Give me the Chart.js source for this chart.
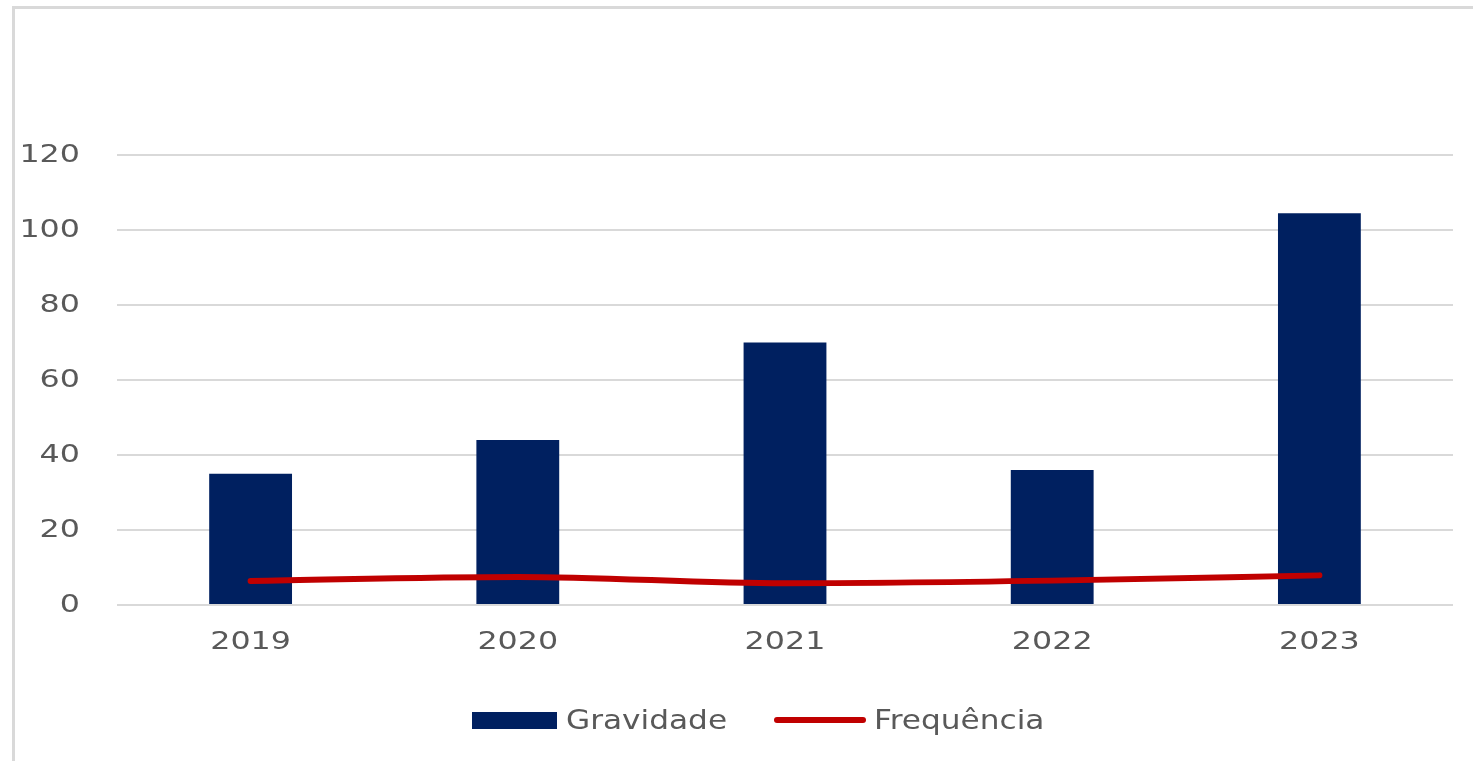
<!DOCTYPE html>
<html>
<head>
<meta charset="utf-8">
<script src="https://cdn.jsdelivr.net/npm/chart.js@4.4.1/dist/chart.umd.min.js"></script>
<style>
  html, body { margin: 0; padding: 0; background: #fff; }
  #wrap { position: relative; width: 1473px; height: 761px; overflow: hidden; }
  #frame {
    position: absolute; left: 12px; top: 6px; width: 1500px; height: 800px;
    border-left: 3px solid #d9d9d9; border-top: 3px solid #d9d9d9;
  }
  #chartBox { position: absolute; left: 0; top: 0; width: 1473px; height: 761px; }
  .swatch-bar { position: absolute; left: 472px; top: 712px; width: 85px; height: 17px; background: #002060; }
  .swatch-line { position: absolute; left: 774px; top: 717px; width: 92px; height: 6px; border-radius: 3px; background: #C00000; }
  .legend-text {
    position: absolute; top: 706px; white-space: nowrap;
    font-family: "DejaVu Sans", sans-serif; font-size: 27px; line-height: 1; color: #595959;
    transform: scaleX(1.155); transform-origin: left center;
  }
</style>
</head>
<body>
<div id="wrap">
  <div id="frame"></div>
  <div id="chartBox"><canvas id="mainChart"></canvas></div>
  <span class="swatch-bar"></span>
  <span class="legend-text" style="left:566px">Gravidade</span>
  <span class="swatch-line"></span>
  <span class="legend-text" style="left:874px">Frequência</span>
</div>
<script>
/* ---------- Data ---------- */
const years = ["2019", "2020", "2021", "2022", "2023"];
const gravidade = [35, 44, 70, 36, 104.5];
const frequencia = [6.4, 7.5, 5.8, 6.5, 7.9];
const yTicks = [0, 20, 40, 60, 80, 100, 120];

const textColor = "#595959";
const gridColor = "#d9d9d9";

// the original picture has horizontally stretched glyphs
const stretchPlugin = {
  id: "stretch",
  beforeDraw(chart) {
    const ctx = chart.ctx;
    if (ctx._stretched) return;
    const fill = ctx.fillText.bind(ctx);
    ctx.fillText = function (text, x, y) {
      ctx.save();
      ctx.translate(x, y);
      ctx.scale(1.27, 1);
      fill(text, 0, 0);
      ctx.restore();
    };
    ctx._stretched = true;
  }
};

new Chart(document.getElementById("mainChart"), {
  data: {
    labels: years,
    datasets: [
      {
        type: "line",
        label: "Frequência",
        data: frequencia,
        borderColor: "#C00000",
        borderWidth: 6,
        borderCapStyle: "round",
        pointRadius: 0,
        cubicInterpolationMode: "monotone",
        order: 0
      },
      {
        type: "bar",
        label: "Gravidade",
        data: gravidade,
        backgroundColor: "#002060",
        barPercentage: 0.31,
        categoryPercentage: 1,
        order: 1
      }
    ]
  },
  options: {
    responsive: true,
    maintainAspectRatio: false,
    animation: false,
    layout: { padding: { top: 155, right: 20, bottom: 0, left: 0 } },
    plugins: {
      legend: { display: false },
      tooltip: { enabled: false }
    },
    scales: {
      x: {
        grid: { display: false, drawTicks: false },
        border: { display: false },
        ticks: {
          color: textColor,
          padding: 22,
          font: { family: "DejaVu Sans", size: 25 }
        },
        afterFit(scale) { scale.height = 156; }
      },
      y: {
        min: 0,
        max: 120,
        afterBuildTicks(scale) { scale.ticks = yTicks.map((v) => ({ value: v })); },
        grid: { color: gridColor, lineWidth: 2, drawTicks: false },
        border: { display: false },
        ticks: {
          color: textColor,
          padding: 37,
          font: { family: "DejaVu Sans", size: 25 }
        },
        afterFit(scale) { scale.width = 117; }
      }
    }
  },
  plugins: [stretchPlugin]
});
</script>
</body>
</html>
